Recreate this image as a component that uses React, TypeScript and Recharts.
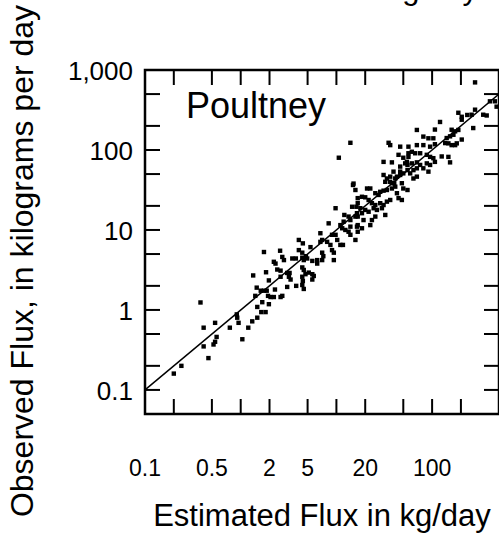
import { ScatterChart, Scatter, XAxis, YAxis, ReferenceLine, ReferenceArea } from "recharts";

// estimated vs observed flux, kg/day
const estimated = [
  0.2, 0.24, 0.38, 0.41, 0.41, 0.46, 0.54, 0.56, 0.54, 0.52,
  0.77, 0.91, 0.92, 0.95, 1.04, 1.2, 1.32, 1.35, 1.47, 1.62,
  1.75, 1.87, 2.28, 1.42, 1.93, 2.05, 2.22, 2.61, 2.72, 1.97,
  1.68, 1.49, 1.64, 1.82, 1.49, 1.97, 1.84, 2.31, 1.75, 2.58,
  2.72, 2.83, 2.61, 2.61, 2.41, 2.22, 3.06, 3.24, 3.19, 3.32,
  3.06, 3.8, 4.4, 4.56, 4.4, 4.56, 4.75, 5.14, 5.6, 5.8,
  5.6, 4.4, 4.46, 3.46, 3.77, 4.4, 4.4, 4.56, 4.8, 4.95,
  5.6, 6.3, 7.1, 6.3, 7.1, 9.4, 9.4, 4.05, 4.46, 4.05,
  5.36, 9.0, 7.3, 6.8, 7.1, 6.8, 8.0, 8.66, 9.0, 9.8,
  10.2, 11.0, 11.7, 8.3, 11.0, 11.5, 12.4, 13.4, 14.0, 9.8,
  12.1, 13.4, 14.0, 16.7, 16.7, 16.7, 15.8, 14.9, 15.8, 16.7,
  16.7, 16.2, 14.6, 11.9, 14.0, 16.4, 18.5, 15.8, 16.4, 18.5,
  14.0, 10.6, 15.1, 20.9, 22.6, 18.5, 20.0, 21.7, 23.5, 25.5,
  28.7, 31.1, 33.7, 36.5, 17.8, 20.0, 21.7, 24.5, 26.5, 29.9,
  32.4, 23.5, 25.5, 22.6, 19.2, 25.5, 27.6, 28.7, 31.1, 33.7,
  33.7, 32.4, 36.5, 40.2, 48.3, 50, 55.3, 38, 41.2, 42.9,
  44.6, 48.3, 31.1, 38, 35.1, 36.5, 44.6, 50, 56.6, 52.3,
  55.3, 55.3, 50, 46.4, 42.9, 31.1, 36.5, 41.2, 38, 39.5,
  46.4, 59, 63.8, 69.3, 63.8, 69.3, 46.4, 81, 91.5, 54.5,
  61.4, 69.3, 75, 88, 95.3, 107, 154, 56.6, 61.4, 66.5,
  75, 88, 95.3, 103, 148, 126, 46.4, 56.6, 69.3, 81,
  95.3, 107, 148, 160, 174, 181, 137, 204, 154, 142,
  167, 160, 174, 188, 81, 91.5, 103, 69.3, 107, 121,
  269, 204, 188, 204, 233, 259, 281, 342, 372, 402,
  453, 281, 472,
];

const observed = [
  0.16, 0.2, 1.24, 0.6, 0.35, 0.25, 0.69, 0.46, 0.4, 0.37,
  0.6, 0.88, 0.8, 0.69, 0.43, 0.6, 0.72, 2.7, 1.9, 1.74,
  1.74, 1.74, 1.8, 1.5, 1.5, 1.45, 1.45, 1.45, 1.5, 1.18,
  1.25, 1.09, 0.94, 0.94, 0.8, 2.34, 2.96, 3.8, 5.3, 5.5,
  4.6, 4.2, 3.1, 2.6, 3.2, 4.0, 2.9, 2.9, 2.6, 2.4,
  1.94, 2.0, 2.05, 1.83, 3.4, 3.16, 2.8, 2.93, 2.8, 2.66,
  2.4, 2.6, 2.3, 4.4, 4.4, 5.2, 4.5, 4.2, 4.7, 4.4,
  4.1, 4.2, 4.2, 3.8, 5.2, 5.2, 4.2, 7.5, 6.8, 5.6,
  6.1, 5.6, 4.7, 9.1, 7.5, 7.1, 7.1, 6.5, 8.7, 8.7,
  7.5, 6.5, 6.5, 12.1, 11.5, 10.5, 10, 9.5, 8.7, 18.7,
  15.4, 14.7, 13.3, 14.7, 11.5, 9.5, 7.5, 36.5, 31.6, 25,
  21.6, 19.5, 19.5, 12.7, 11.0, 11.0, 10.5, 14.7, 16.2, 16.2,
  123, 80, 38, 33, 33, 26, 25.6, 23.7, 21.6, 20.5,
  21.6, 20.5, 22.6, 23.7, 18.7, 17.8, 16.9, 18.7, 17.8, 18.7,
  15.4, 13.3, 14.7, 11.5, 13.3, 28.8, 27.4, 30, 31, 31.6,
  44, 40, 40, 38.4, 38.4, 33, 31.6, 33, 34.8, 28.8,
  25, 23.7, 71, 70, 123, 115, 87, 80, 91, 68,
  65, 56, 51, 48.7, 46.4, 48.7, 46.4, 44, 38.4, 53.6,
  53.6, 51, 56, 59, 44, 46.4, 62, 59, 53.6, 71,
  68, 70, 65, 68, 65, 71, 70, 82, 95, 91,
  91, 87, 82, 79, 82, 83, 110, 110, 115, 115,
  110, 118, 121, 115, 115, 121, 122, 135, 148, 141,
  155, 179, 171, 178, 147, 140, 140, 178, 180, 224,
  188, 239, 292, 260, 274, 276, 319, 276, 270, 406,
  406, 700, 348,
];

const xTicks = [0.1, 0.2, 0.5, 1, 2, 5, 10, 20, 50, 100, 200];
const xLabels = [0.1, 0.5, 2, 5, 20, 100];
const yTicks = [0.1, 0.2, 0.5, 1, 2, 5, 10, 20, 50, 100, 200, 500, 1000];
const yLabels = [0.1, 1, 10, 100, 1000];
const xDomain = [0.1, 500];
const yDomain = [0.05, 1000];
const lineEnds = [0.1, 500];

const siteName = "Poultney";
const xTitle = "Estimated Flux in kg/day";
const yTitle = "Observed Flux, in kilograms per day";

const points = estimated.map((x, i) => ({ x, y: observed[i] }));
const FONT = "'Liberation Sans', Arial, Helvetica, sans-serif";

// plot box edges (from the chart margins below)
const PLOT_TOP = 70;
const PLOT_RIGHT = 499;
const TICK = 15;

const fmt = (v: number) => (v >= 1000 ? v.toLocaleString("en-US") : String(v));

// bottom tick + mirrored tick on the top edge
function XTick({ x, y, payload }: any) {
  const v = payload.value;
  return (
    <g>
      <line x1={x} x2={x} y1={y} y2={y - TICK} stroke="#000" strokeWidth={2} />
      <line x1={x} x2={x} y1={PLOT_TOP} y2={PLOT_TOP + TICK} stroke="#000" strokeWidth={2} />
      {xLabels.includes(v) && (
        <text x={x} y={y + 62} textAnchor="middle" fontSize={23} fontFamily={FONT} fill="#000">
          {fmt(v)}
        </text>
      )}
    </g>
  );
}

// left tick + mirrored tick on the right edge
function YTick({ x, y, payload }: any) {
  const v = payload.value;
  return (
    <g>
      <line x1={x} x2={x + TICK} y1={y} y2={y} stroke="#000" strokeWidth={2} />
      <line x1={PLOT_RIGHT} x2={PLOT_RIGHT - TICK} y1={y} y2={y} stroke="#000" strokeWidth={2} />
      {yLabels.includes(v) && (
        <text x={x - 12} y={y + 10} textAnchor="end" fontSize={26} fontFamily={FONT} fill="#000">
          {fmt(v)}
        </text>
      )}
    </g>
  );
}

const square = (p: any) => <rect x={p.cx - 2.2} y={p.cy - 2.2} width={4.4} height={4.4} fill="#000" />;

export default function App() {
  return (
    <div style={{ position: "absolute", left: 0, top: 0, width: 499, height: 544, background: "#fff" }}>
      <ScatterChart width={499} height={544} margin={{ top: PLOT_TOP, right: 0, bottom: 0, left: 0 }}>
        <XAxis
          dataKey="x"
          type="number"
          scale="log"
          domain={xDomain}
          allowDataOverflow
          ticks={xTicks}
          interval={0}
          height={130}
          tickSize={0}
          tickMargin={0}
          tickLine={false}
          axisLine={false}
          tick={<XTick />}
        />
        <YAxis
          dataKey="y"
          type="number"
          scale="log"
          domain={yDomain}
          allowDataOverflow
          ticks={yTicks}
          interval={0}
          width={145}
          tickSize={0}
          tickMargin={0}
          tickLine={false}
          axisLine={false}
          tick={<YTick />}
        />
        <ReferenceArea
          x1={xDomain[0]}
          x2={xDomain[1]}
          y1={yDomain[0]}
          y2={yDomain[1]}
          fill="none"
          fillOpacity={0}
          stroke="#000"
          strokeWidth={2.5}
          ifOverflow="visible"
        />
        <ReferenceLine
          segment={[
            { x: lineEnds[0], y: lineEnds[0] },
            { x: lineEnds[1], y: lineEnds[1] },
          ]}
          stroke="#000"
          strokeWidth={1.5}
          ifOverflow="visible"
        />
        <Scatter data={points} shape={square} isAnimationActive={false} />
      </ScatterChart>
      <svg
        width={499}
        height={544}
        style={{ position: "absolute", left: 0, top: 0, pointerEvents: "none" }}
        fontFamily={FONT}
        fill="#000"
      >
        <text x={478} y={-1.5} textAnchor="end" fontSize={31}>
          {xTitle}
        </text>
        <text x={186} y={118} fontSize={36}>
          {siteName}
        </text>
        <text x={322} y={526} textAnchor="middle" fontSize={31}>
          {xTitle}
        </text>
        <text x={33} y={261} textAnchor="middle" fontSize={32} transform="rotate(-90 33 261)">
          {yTitle}
        </text>
      </svg>
    </div>
  );
}
